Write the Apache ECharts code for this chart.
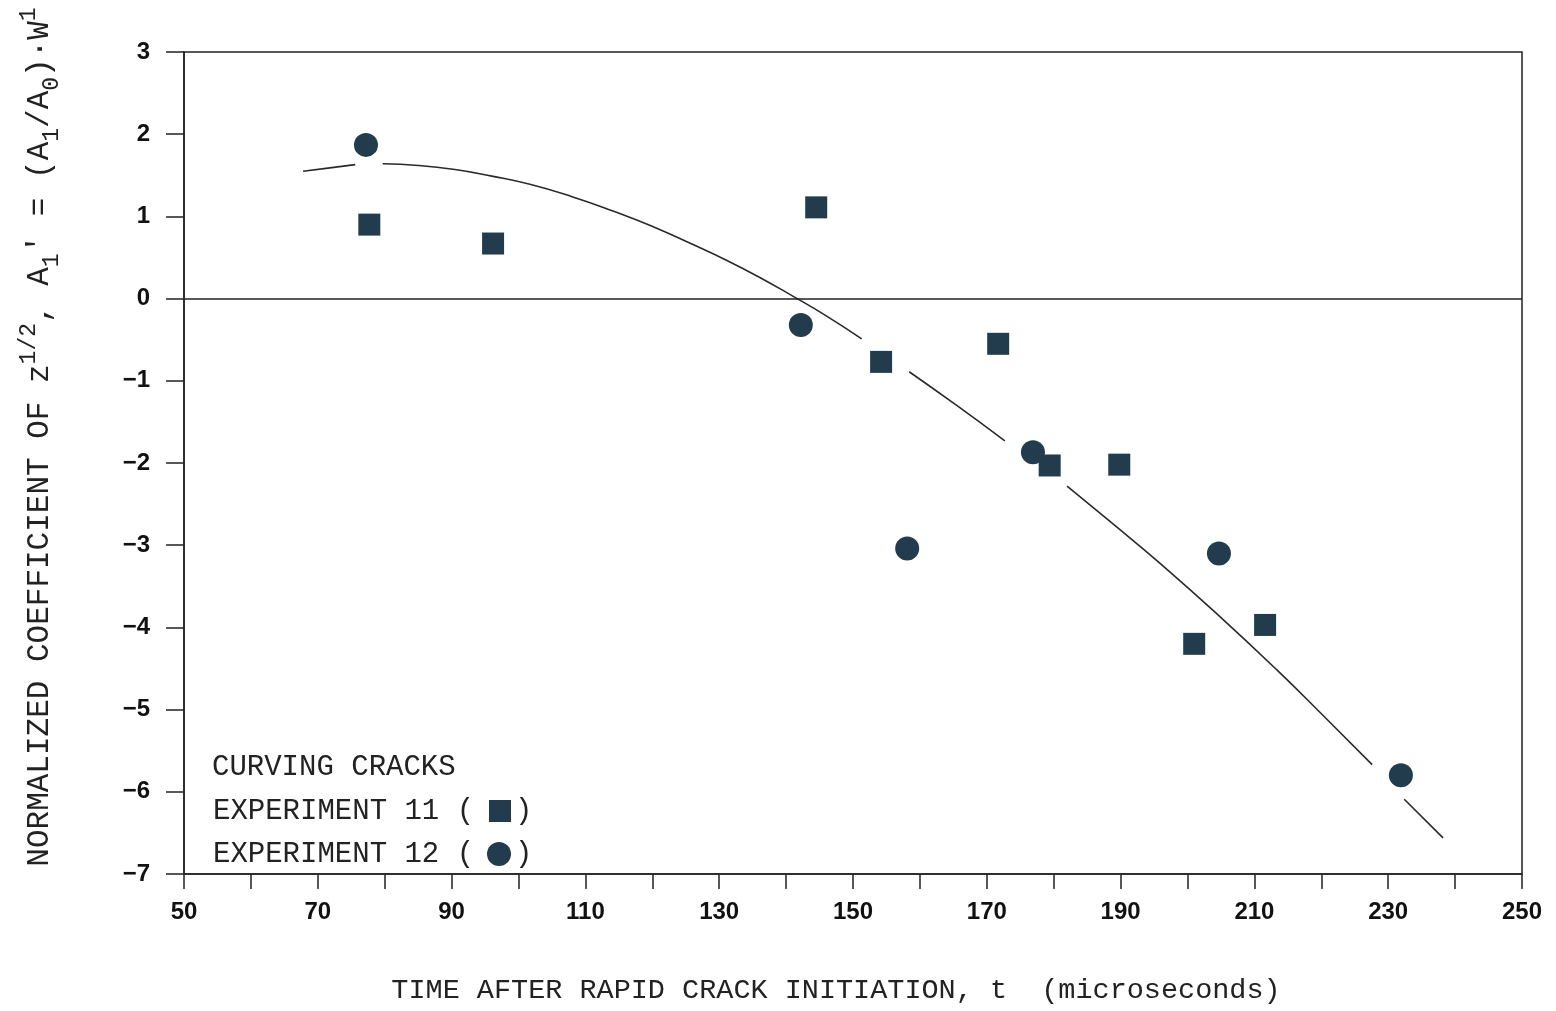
<!DOCTYPE html>
<html>
<head>
<meta charset="utf-8">
<style>html,body{margin:0;padding:0;background:#fff;}#c{width:1556px;height:1011px;}</style>
<script src="https://cdn.jsdelivr.net/npm/echarts@6/dist/echarts.min.js"></script>
</head>
<body>
<div id="c"></div>
<script>
// Experiment 11 (squares): [time, coefficient]
var exp11 = [[77.7,0.90],[96.2,0.67],[144.5,1.11],[154.2,-0.77],[171.7,-0.55],[179.4,-2.03],[189.8,-2.02],[201.0,-4.20],[211.6,-3.97]];
// Experiment 12 (circles)
var exp12 = [[77.2,1.87],[142.2,-0.32],[158.1,-3.04],[176.9,-1.87],[204.7,-3.10],[231.9,-5.80]];
// Fitted curve, broken (null) where it passes the markers
var fitCurve = [
  [67.8,1.55],[71.8,1.59],[75.6,1.63], null,
  [79.7,1.64],[85,1.62],[90.5,1.57],[96,1.49],[101.7,1.39],[108,1.24],[114,1.07],[119.7,0.89],[126,0.66],[131,0.47],[136,0.26],[141,0.03],[146,-0.21],[151.3,-0.49], null,
  [158.4,-0.89],[165.5,-1.30],[172.7,-1.73], null,
  [182.0,-2.28],[189,-2.75],[195.9,-3.22],[204.6,-3.85],[213.4,-4.52],[220.5,-5.09],[227.6,-5.67], null,
  [232.4,-6.09],[238.2,-6.56]
];
var xTicks = {min:50, max:250, step:10, labelStep:20};
var yTicks = {min:-7, max:3, step:1};

var ink = '#222';
var markColor = '#223c4e';
var mono = '"Liberation Mono", "DejaVu Sans Mono", monospace';

var chart = echarts.init(document.getElementById('c'));
chart.setOption({
  animation: false,
  backgroundColor: '#fff',
  grid: {left:184, right:34, top:52, bottom:137, show:true, borderColor:ink, borderWidth:1.5, backgroundColor:'transparent'},
  xAxis: {
    type:'value', min:xTicks.min, max:xTicks.max, interval:xTicks.step,
    axisLine:{show:true, onZero:false, lineStyle:{color:ink, width:1.5}},
    axisTick:{show:true, length:15, lineStyle:{color:ink, width:1.5}},
    splitLine:{show:false},
    axisLabel:{margin:26, color:'#111', fontSize:24, fontWeight:'bold', fontFamily:'"Liberation Sans", Arial, sans-serif',
      formatter:function(v){return ((v - xTicks.min) % xTicks.labelStep === 0) ? String(v) : '';}}
  },
  yAxis: {
    type:'value', min:yTicks.min, max:yTicks.max, interval:yTicks.step,
    axisLine:{show:true, onZero:false, lineStyle:{color:ink, width:1.5}},
    axisTick:{show:true, length:18, lineStyle:{color:ink, width:1.5}},
    splitLine:{show:false},
    axisLabel:{margin:34, color:'#111', fontSize:24, fontWeight:'bold', fontFamily:'"Liberation Sans", Arial, sans-serif',
      formatter:function(v){return v<0 ? '\u2212'+Math.abs(v) : String(v);}}
  },
  series: [
    {type:'line', data:fitCurve, smooth:0.5, showSymbol:false, connectNulls:false,
     lineStyle:{color:'#2a2a2a', width:1.6}, silent:true,
     markLine:{silent:true, symbol:['none','none'], label:{show:false},
       lineStyle:{color:ink, width:1.5, type:'solid'}, data:[{yAxis:0}]}},
    {type:'scatter', data:exp11, symbol:'rect', symbolSize:22, itemStyle:{color:markColor, opacity:1}},
    {type:'scatter', data:exp12, symbol:'circle', symbolSize:24, itemStyle:{color:markColor, opacity:1}}
  ],
  graphic: [
    {type:'text', x:40, y:437, rotation:Math.PI/2,
     style:{
       text:'{m|NORMALIZED COEFFICIENT OF z}{sup|1/2}{m|, A}{sub|1}{m|\' = (A}{sub|1}{m|/A}{sub|0}{m|)\u00b7W}{sup|1}',
       align:'center', verticalAlign:'middle',
       rich:{
         m:{fontSize:31, fontFamily:mono, fill:ink, lineHeight:46, verticalAlign:'middle'},
         sup:{fontSize:23, fontFamily:mono, fill:ink, lineHeight:46, verticalAlign:'top'},
         sub:{fontSize:23, fontFamily:mono, fill:ink, lineHeight:46, verticalAlign:'bottom'}
       }
     }},
    {type:'text', x:836, y:990, style:{text:'TIME AFTER RAPID CRACK INITIATION, t  (microseconds)', fontSize:28.5, fontFamily:mono, fill:ink, align:'center', verticalAlign:'middle'}},
    {type:'text', x:212, y:767, style:{text:'CURVING CRACKS', fontSize:29, fontFamily:mono, fill:ink, align:'left', verticalAlign:'middle'}},
    {type:'text', x:213, y:811, style:{text:'EXPERIMENT 11 (', fontSize:29, fontFamily:mono, fill:ink, align:'left', verticalAlign:'middle'}},
    {type:'rect', shape:{x:489, y:800, width:22, height:22}, style:{fill:markColor}},
    {type:'text', x:515, y:811, style:{text:')', fontSize:29, fontFamily:mono, fill:ink, align:'left', verticalAlign:'middle'}},
    {type:'text', x:213, y:854, style:{text:'EXPERIMENT 12 (', fontSize:29, fontFamily:mono, fill:ink, align:'left', verticalAlign:'middle'}},
    {type:'circle', shape:{cx:499, cy:854, r:12}, style:{fill:markColor}},
    {type:'text', x:515, y:854, style:{text:')', fontSize:29, fontFamily:mono, fill:ink, align:'left', verticalAlign:'middle'}}
  ]
});
</script>
</body>
</html>
